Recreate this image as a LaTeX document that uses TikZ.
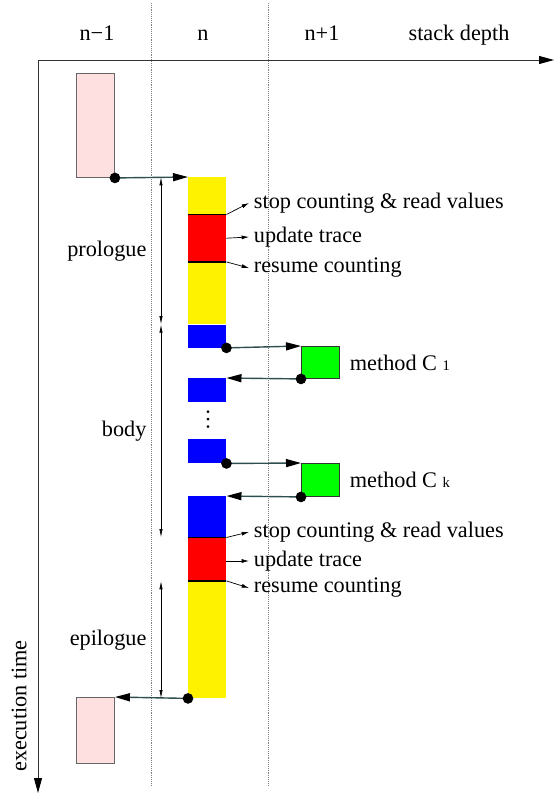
\documentclass[tikz,border=0pt]{standalone}
\usepackage{fontspec}
\setmainfont{Liberation Serif}
\usetikzlibrary{arrows.meta,positioning,calc}
\definecolor{callpink}{RGB}{255,224,224}
\definecolor{callslate}{RGB}{47,79,79}
\newcommand{\stkidx}[1]{{\fontsize{12.5}{13}\selectfont #1}}
\tikzset{
  stkblock/.style={rectangle, anchor=north west, inner sep=0pt, minimum width=1.14cm},
  stkframe/.style={stkblock, draw=black!60, line width=0.8pt},
  stkdot/.style={circle, fill=black, inner sep=0pt, minimum size=0.32cm},
  stkcall/.style={draw=callslate, line width=1.2pt, -{Triangle[length=0.45cm, width=0.24cm, color=black]}},
  stkaxis/.style={draw=black!80, line width=0.8pt, -{Triangle[length=0.45cm, width=0.24cm, color=black]}},
  stkdim/.style={{Latex[length=0.25cm, width=0.1cm]}-{Latex[length=0.25cm, width=0.1cm]}, line width=0.6pt},
  stkpoint/.style={-{Latex[length=0.22cm, width=0.12cm]}, line width=0.6pt},
  stksep/.style={line width=1.6pt},
  stkgrid/.style={densely dotted, draw=black!50, line width=0.6pt},
  stklabel/.style={anchor=west, inner sep=4pt},
}

\begin{document}
\begin{tikzpicture}[x=0.03cm, y=-0.03cm, every node/.style={font=\fontsize{19}{23}\selectfont}]
  \useasboundingbox (0,0) rectangle (555,795);

  % axes and stack levels
  \coordinate (O) at (38,60);
  \coordinate (depthEnd) at (554,60);
  \coordinate (timeEnd) at (38,793);
  \draw[stkgrid] (151,3) -- (151,785);
  \draw[stkgrid] (268,3) -- (268,785);
  \draw[stkaxis] (O) -- (depthEnd);
  \draw[stkaxis] (O) -- (timeEnd);
  \node[anchor=base] (lvlPrev) at (97,41) {n−1};
  \node[anchor=base] (lvlCur) at (203,41) {n};
  \node[anchor=base] (lvlNext) at (322,41) {n+1};
  \node[anchor=base] (lblDepth) at (459,41) {stack depth};
  \node[rotate=90] (lblTime) at (19,706) {execution time};

  % level n-1
  \node[stkframe, fill=callpink, minimum height=3.12cm] (caller) at (76,73) {};
  \node[stkframe, fill=callpink, minimum height=1.98cm] (callerRet) at (76,697) {};

  % level n
  \node[stkblock, fill=yellow, minimum height=1.11cm] (proY1) at (188,177) {};
  \node[stkblock, fill=red, minimum height=1.41cm] (proR) at (proY1.south west) {};
  \node[stkblock, fill=yellow, minimum height=1.86cm] (proY2) at (proR.south west) {};
  \node[stkblock, fill=blue, minimum height=0.69cm] (callA) at (proY2.south west) {};
  \node[stkblock, fill=blue, minimum height=0.72cm] (retA) at (188,378) {};
  \node[stkblock, fill=blue, minimum height=0.72cm] (callK) at (188,439) {};
  \node[stkblock, fill=blue, minimum height=1.23cm] (epiB) at (188,496) {};
  \node[stkblock, fill=red, minimum height=1.29cm] (epiR) at (epiB.south west) {};
  \node[stkblock, fill=yellow, minimum height=3.51cm] (epiY) at (epiR.south west) {};
  \node[rotate=-90, inner sep=0pt] (vdots) at (208,420) {…};
  \draw[stksep] (proR.north west) -- (proR.north east);
  \draw[stksep] (proR.south west) -- (proR.south east);
  \draw[stksep] (epiR.north west) -- (epiR.north east);
  \draw[stksep] (epiR.south west) -- (epiR.south east);

  % level n+1
  \node[stkframe, fill=green, draw=black!80, minimum height=0.96cm] (mC1) at (301,346) {};
  \node[stkframe, fill=green, draw=black!80, minimum height=0.99cm] (mCk) at (301,463) {};
  \node[right=0.15cm of mC1, inner sep=4pt] (lblC1) {method C \stkidx{1}};
  \node[right=0.15cm of mCk, inner sep=4pt] (lblCk) {method C \stkidx{k}};

  % calls and returns
  \draw[stkcall] (caller.south east) node[stkdot] {} -- (proY1.north west);
  \draw[stkcall] (callA.south east) node[stkdot] {} -- (mC1.north west);
  \draw[stkcall] (mC1.south west) node[stkdot] {} -- (retA.north east);
  \draw[stkcall] (callK.south east) node[stkdot] {} -- (mCk.north west);
  \draw[stkcall] (mCk.south west) node[stkdot] {} -- (epiB.north east);
  \draw[stkcall] (epiY.south west) node[stkdot] {} -- (callerRet.north east);

  % instrumentation
  \node[stklabel] (lblStopA) at (249,203) {stop counting \& read values};
  \node[stklabel] (lblUpdA) at (249,237) {update trace};
  \node[stklabel] (lblResA) at (249,268) {resume counting};
  \draw[stkpoint] (proR.north east) -- (lblStopA.west);
  \draw[stkpoint] (proR.east) -- (lblUpdA.west);
  \draw[stkpoint] (proR.south east) -- (lblResA.west);
  \node[stklabel] (lblStopB) at (249,532) {stop counting \& read values};
  \node[stklabel] (lblUpdB) at (249,561) {update trace};
  \node[stklabel] (lblResB) at (249,588) {resume counting};
  \draw[stkpoint] (epiR.north east) -- (lblStopB.west);
  \draw[stkpoint] (lblUpdB.west -| epiR.east) -- (lblUpdB.west);
  \draw[stkpoint] (epiR.south east) -- (lblResB.west);

  % phases
  \coordinate (dimX) at (161,0);
  \draw[stkdim] (dimX |- proY1.north) -- node[left=0.31cm] (lblPro) {prologue} (dimX |- proY2.south);
  \draw[stkdim] (dimX |- callA.north) -- node[left=0.31cm] (lblBody) {body} (dimX |- epiB.south);
  \draw[stkdim] (dimX |- epiR.south) -- node[left=0.31cm] (lblEpi) {epilogue} (dimX |- epiY.south);
\end{tikzpicture}
\end{document}
